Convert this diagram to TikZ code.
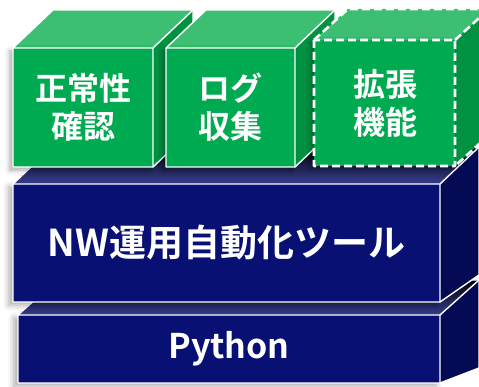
\documentclass[tikz,border=0pt]{standalone}
\usepackage{fontspec}
\newfontfamily\jpfont{Noto Sans CJK JP}[BoldFont={Noto Sans CJK JP Bold}]
\usetikzlibrary{shadows.blur}
\definecolor{grnfront}{HTML}{00AA50}
\definecolor{grntop}{HTML}{3CBE73}
\definecolor{grnside}{HTML}{009141}
\definecolor{navfront}{HTML}{081073}
\definecolor{navtop}{HTML}{373E91}
\definecolor{navside}{HTML}{050A55}
% box: x1,y1,x2,y2 of front face, depth dx, dy at top, dy at bottom, colour set, edge style
\newcommand{\blockbox}[9]{%
  \path[#8 side] (#3,#2) -- ++(#5,-#6) -- (#3+#5,#4-#7) -- (#3,#4) -- cycle;
  \path[#8 top] (#1,#2) -- ++(#5,-#6) -- (#3+#5,#2-#6) -- (#3,#2) -- cycle;
  \path[#8 front] (#1,#2) rectangle (#3,#4);
  \draw[#9] (#1,#2) -- ++(#5,-#6) -- (#3+#5,#2-#6) -- (#3+#5,#4-#7) -- (#3,#4);
  \draw[#9] (#1,#2) rectangle (#3,#4) (#3,#2) -- ++(#5,-#6);
}
\begin{document}
\begin{tikzpicture}[x=1pt, y=-1pt, line join=round, line cap=round,
    grn side/.style={fill=grnside},
    grn top/.style={fill=grntop},
    grn front/.style={fill=grnfront, blur shadow={shadow xshift=-3pt, shadow yshift=-3pt, shadow blur radius=5pt, shadow opacity=35}},
    nav side/.style={fill=navside},
    nav top/.style={top color=black, bottom color=navtop},
    nav front/.style={fill=navfront, blur shadow={shadow xshift=-4pt, shadow yshift=-3pt, shadow blur radius=6pt, shadow opacity=35}},
    edge/.style={draw=white, line width=1.4pt},
    dashedge/.style={draw=white, line width=2.6pt, line cap=butt, dash pattern=on 8pt off 4pt},
    label/.style={text=white, align=center, inner sep=0pt}]
  \useasboundingbox (0,0) rectangle (479,387);
  \clip (0,0) rectangle (479,387);
  % layers
  \blockbox{18}{315}{440}{383}{39}{35}{15}{nav}{edge}
  \blockbox{13}{184}{440}{302}{39}{37}{27}{nav}{edge}
  % modules
  \blockbox{13}{48}{153}{167}{40}{38}{38}{grn}{edge}
  \blockbox{166}{48}{295}{167}{40}{38}{38}{grn}{edge}
  \blockbox{314}{40}{455}{166}{34}{31}{31}{grn}{dashedge}
  % labels
  \node[label, font=\jpfont\bfseries\fontsize{34}{40}\selectfont] (python) at (229,349) {Python};
  \node[label, font=\jpfont\bfseries\fontsize{37}{40}\selectfont] (nwtool) at (226.5,243) {NW運用自動化ツール};
  \node[label, font=\jpfont\bfseries\fontsize{32}{38}\selectfont] (check) at (83,107) {正常性\\確認};
  \node[label, font=\jpfont\bfseries\fontsize{32}{38}\selectfont] (logs) at (230,107) {ログ\\収集};
  \node[label, font=\jpfont\bfseries\fontsize{32}{38}\selectfont] (ext) at (385,103) {拡張\\機能};
\end{tikzpicture}
\end{document}
